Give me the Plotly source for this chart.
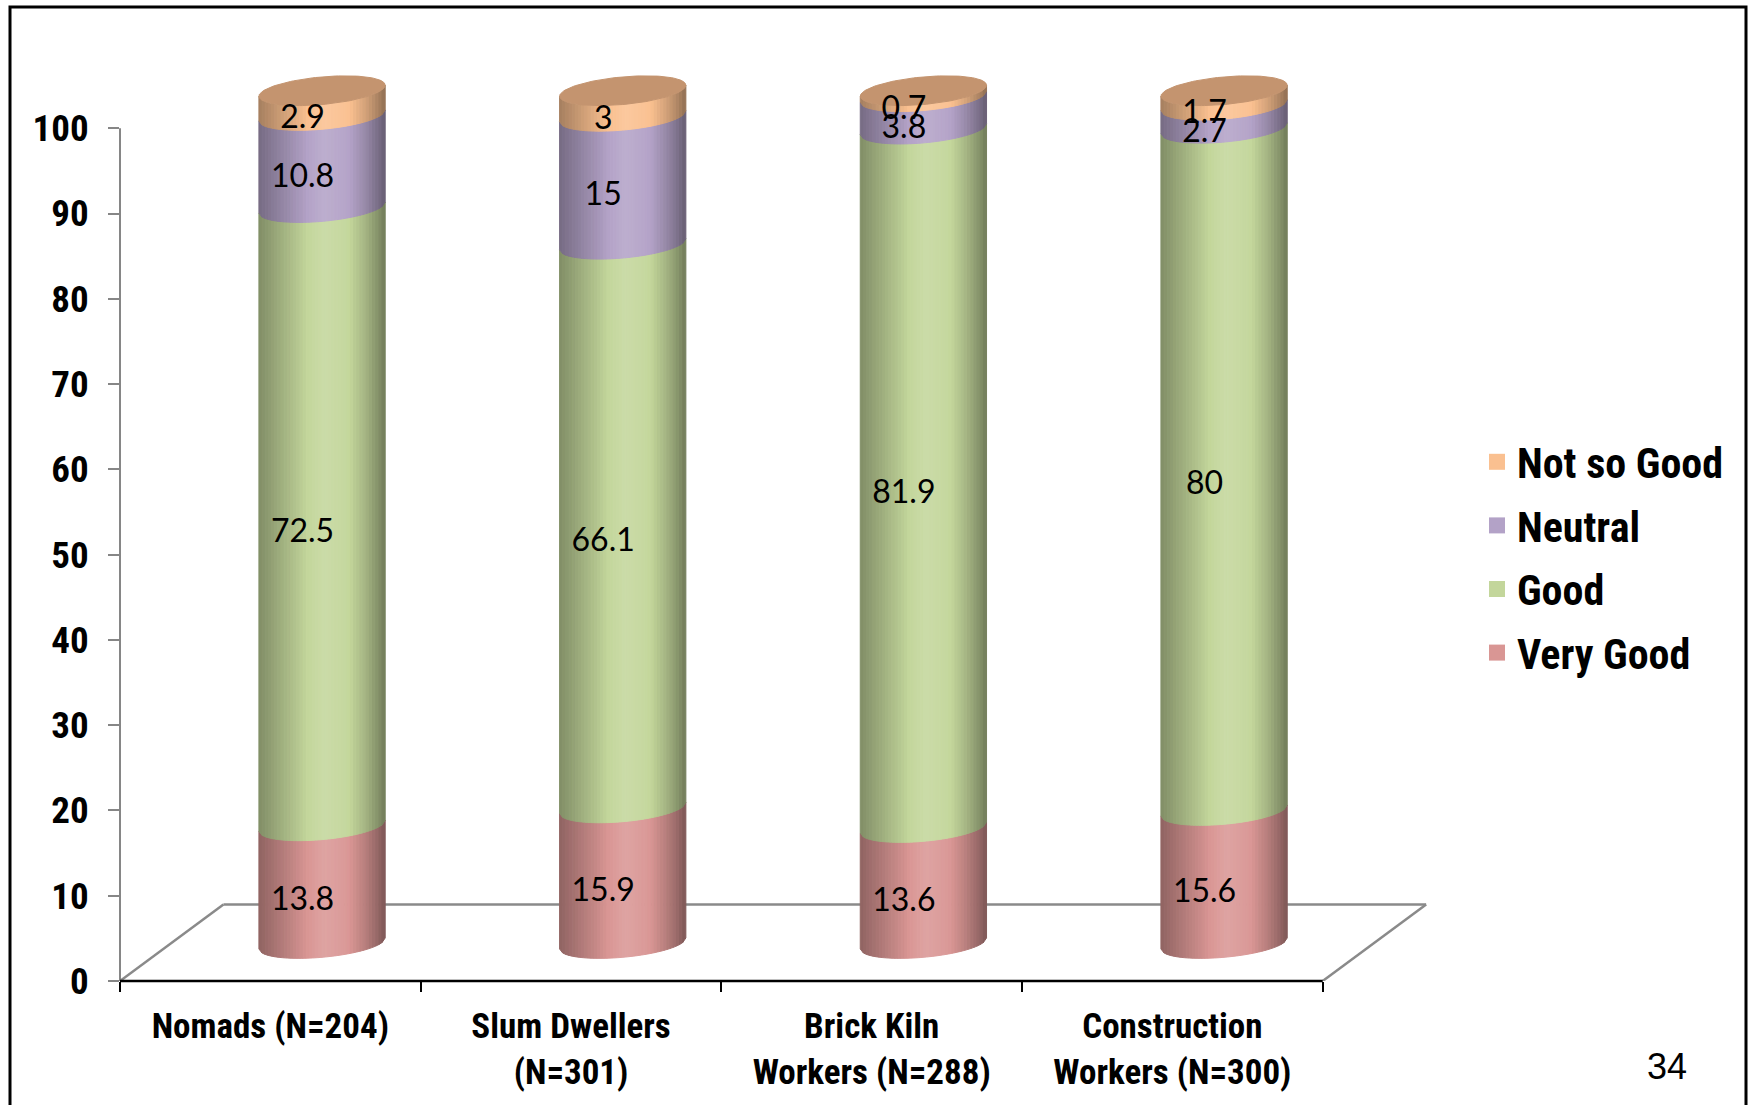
import numpy as np
import plotly.graph_objects as go

# ---- data -------------------------------------------------------------
categories = [
    "Nomads (N=204)",
    "Slum Dwellers<br>(N=301)",
    "Brick Kiln<br>Workers (N=288)",
    "Construction<br>Workers (N=300)",
]
very_good = [13.8, 15.9, 13.6, 15.6]
good = [72.5, 66.1, 81.9, 80.0]
neutral = [10.8, 15.0, 3.8, 2.7]
not_so_good = [2.9, 3.0, 0.7, 1.7]
y_tick_values = [0, 10, 20, 30, 40, 50, 60, 70, 80, 90, 100]
page_number = "34"

# stacking order, bottom to top
series = [
    ("Very Good", very_good, "#D99694"),
    ("Good", good, "#C3D69B"),
    ("Neutral", neutral, "#B3A2C7"),
    ("Not so Good", not_so_good, "#FAC090"),
]
cap_color = "#C4946F"

# ---- projection / cylinder geometry (axis units) ----------------------
X_RANGE = [-0.5, 3.95]
Y_RANGE = [0, 108]
FLOOR_DX, FLOOR_DY = 0.344, 8.96          # depth of the 3-D floor
BAR_DX, BAR_DY = FLOOR_DX / 2, 4.4         # cylinders stand mid-depth
HALF_W = 0.21                              # cylinder radius (x units)
RY = 1.62                                  # ellipse half height (y units)
TILT = 0.645                               # perspective tilt of ellipses
LABEL_DX, LABEL_DY = 0.107, 2.4
N_STRIPS = 40

# brightness profile across the cylinder face (u = -1 left .. 1 right)
shade_u = [-1.0, -0.7, -0.35, 0.05, 0.4, 0.7, 0.9, 1.0]
shade_v = [-0.34, -0.21, -0.06, 0.13, 0.03, -0.16, -0.32, -0.42]


def hex_rgb(h):
    h = h.lstrip("#")
    return np.array([int(h[i:i + 2], 16) for i in (0, 2, 4)], dtype=float)


def shade(hexcol, s):
    rgb = hex_rgb(hexcol)
    if s >= 0:
        rgb = rgb + (255 - rgb) * s
    else:
        rgb = rgb * (1 + s)
    r, g, b = np.clip(np.round(rgb), 0, 255).astype(int)
    return f"rgb({r},{g},{b})"


def front_arc(v, u):
    return v + BAR_DY + TILT * u - RY * np.sqrt(max(0.0, 1 - u * u))


fig = go.Figure()

# cumulative bases of each stacked segment
bases = []
running = [0.0] * len(categories)
for _, vals, _ in series:
    bases.append(list(running))
    running = [r + v for r, v in zip(running, vals)]
totals = running

edges = np.linspace(-1, 1, N_STRIPS + 1)

# cylinder side walls, drawn as shaded vertical strips
for k, (name, vals, col) in enumerate(series):
    for j in range(N_STRIPS):
        u0, u1 = edges[j], edges[j + 1]
        c = shade(col, float(np.interp((u0 + u1) / 2, shade_u, shade_v)))
        xs, ys = [], []
        for i in range(len(categories)):
            lo = bases[k][i]
            hi = lo + vals[i]
            cx = i + BAR_DX
            xa, xb = cx + HALF_W * u0, cx + HALF_W * u1
            xs += [xa, xb, xb, xa, xa, None]
            ys += [front_arc(lo, u0), front_arc(lo, u1),
                   front_arc(hi, u1), front_arc(hi, u0),
                   front_arc(lo, u0), None]
        fig.add_trace(go.Scatter(
            x=xs, y=ys, mode="lines", fill="toself", fillcolor=c,
            line=dict(color=c, width=1), hoverinfo="skip", showlegend=False))

# top caps
theta = np.linspace(0, 2 * np.pi, 121)
cx_all, cy_all = [], []
for i, tot in enumerate(totals):
    u = np.cos(theta)
    cx_all += list(i + BAR_DX + HALF_W * u) + [None]
    cy_all += list(tot + BAR_DY + TILT * u + RY * np.sin(theta)) + [None]
fig.add_trace(go.Scatter(
    x=cx_all, y=cy_all, mode="lines", fill="toself", fillcolor=cap_color,
    line=dict(color=cap_color, width=1), hoverinfo="skip", showlegend=False))

# value labels
lx, ly, lt = [], [], []
for k, (name, vals, col) in enumerate(series):
    for i, v in enumerate(vals):
        lx.append(i + LABEL_DX)
        ly.append(bases[k][i] + v / 2 + LABEL_DY)
        lt.append(f"{v:g}")
fig.add_trace(go.Scatter(
    x=lx, y=ly, text=lt, mode="text", textposition="middle center",
    textfont=dict(family="Lato, Carlito, Calibri, sans-serif", size=32, color="black"),
    hoverinfo="skip", showlegend=False, cliponaxis=False))

# legend entries (top entry = top of stack)
for name, vals, col in reversed(series):
    fig.add_trace(go.Scatter(
        x=[None], y=[None], mode="markers", name=name, legendgroup=name,
        marker=dict(symbol="square", size=19, color=col, line=dict(width=0))))

# ---- 3-D floor and axis lines ----------------------------------------
floor_col = "#8A8A8A"
x_lo, x_hi = -0.5, len(categories) - 0.5
shapes = [
    dict(type="line", xref="x", yref="y", layer="below",
         x0=x_lo, y0=0, x1=x_lo + FLOOR_DX, y1=FLOOR_DY,
         line=dict(color=floor_col, width=2.5)),
    dict(type="line", xref="x", yref="y", layer="below",
         x0=x_lo + FLOOR_DX, y0=FLOOR_DY, x1=x_hi + FLOOR_DX, y1=FLOOR_DY,
         line=dict(color=floor_col, width=2.5)),
    dict(type="line", xref="x", yref="y", layer="below",
         x0=x_hi, y0=0, x1=x_hi + FLOOR_DX, y1=FLOOR_DY,
         line=dict(color=floor_col, width=2.5)),
]

xspan = X_RANGE[1] - X_RANGE[0]
yspan = Y_RANGE[1] - Y_RANGE[0]
# value axis line (0..100) and category axis line
shapes.append(dict(type="line", xref="paper", yref="paper",
                   x0=0, x1=0, y0=0, y1=(100 - Y_RANGE[0]) / yspan,
                   line=dict(color="#868686", width=2)))
shapes.append(dict(type="line", xref="paper", yref="paper",
                   x0=0, x1=(x_hi - X_RANGE[0]) / xspan, y0=0, y1=0,
                   line=dict(color="black", width=2.5)))

# slide frame
W, H = 1758, 1105
ML, MR, MT, MB = 120, 300, 60, 124
pw, ph = W - ML - MR, H - MT - MB


def px_to_paper(px, py):
    return (px - ML) / pw, (H - MB - py) / ph


fx0, fy_bot = px_to_paper(10, 1110)
fx1, fy_top = px_to_paper(1746, 7)
shapes.append(dict(type="path", xref="paper", yref="paper",
                   path=f"M{fx0},{fy_bot} L{fx0},{fy_top} L{fx1},{fy_top} L{fx1},{fy_bot}",
                   line=dict(color="black", width=3)))

pnx, pny = px_to_paper(1667, 1066)

narrow = "Liberation Sans Narrow, Arial Narrow, Roboto Condensed, sans-serif"

fig.update_layout(
    width=W, height=H,
    margin=dict(l=ML, r=MR, t=MT, b=MB, autoexpand=False),
    paper_bgcolor="white", plot_bgcolor="white",
    shapes=shapes,
    showlegend=True,
    legend=dict(
        x=px_to_paper(1477, 0)[0], y=px_to_paper(0, 428)[1],
        xanchor="left", yanchor="top",
        traceorder="grouped", tracegroupgap=6,
        font=dict(family=narrow, size=42, color="black", weight="bold"),
        bgcolor="rgba(0,0,0,0)", itemwidth=30,
    ),
    xaxis=dict(
        range=X_RANGE, showgrid=False, zeroline=False, showline=False,
        tickvals=list(range(len(categories))), ticktext=categories,
        ticks="outside", ticklen=10, tickcolor="rgba(0,0,0,0)",
        ticklabelstandoff=4,
        tickfont=dict(family=narrow, size=35, color="black", weight="bold"),
        minor=dict(tickvals=[i - 0.5 for i in range(len(categories) + 1)],
                   ticks="outside", ticklen=10, tickcolor="black", tickwidth=2),
        fixedrange=True,
    ),
    yaxis=dict(
        range=Y_RANGE, showgrid=False, zeroline=False, showline=False,
        tickvals=y_tick_values, ticks="outside", ticklen=11,
        tickcolor="#868686", tickwidth=2, ticklabelstandoff=12,
        tickfont=dict(family=narrow, size=37, color="black", weight="bold"),
        fixedrange=True,
    ),
    annotations=[dict(
        x=pnx, y=pny, xref="paper", yref="paper", text=page_number,
        showarrow=False, xanchor="center", yanchor="middle",
        font=dict(family="Liberation Sans, Arial, sans-serif", size=36, color="black"),
    )],
)

fig.write_html("out.html")
